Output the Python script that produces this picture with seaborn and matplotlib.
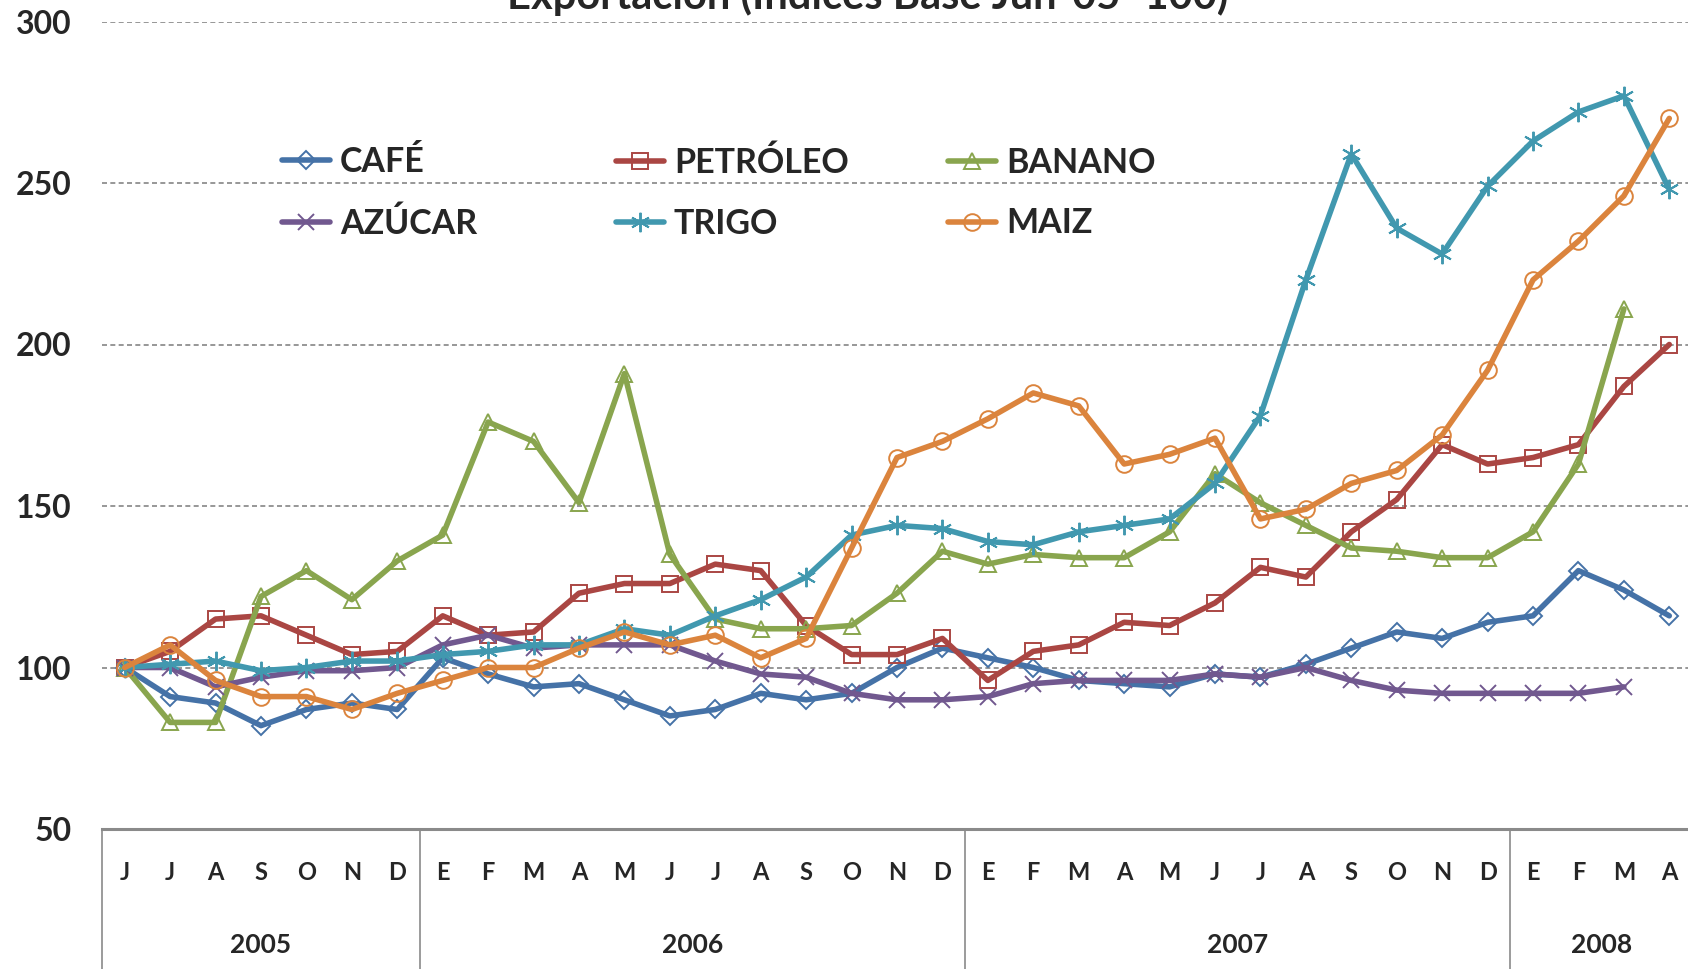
import numpy as np
import pandas as pd
import matplotlib
matplotlib.use("Agg")
import matplotlib.pyplot as plt
import seaborn as sns

# Monthly export price indices, base Jun-05 = 100 (Jun 2005 .. Apr 2008)
meses = ['J', 'J', 'A', 'S', 'O', 'N', 'D',
         'E', 'F', 'M', 'A', 'M', 'J', 'J', 'A', 'S', 'O', 'N', 'D',
         'E', 'F', 'M', 'A', 'M', 'J', 'J', 'A', 'S', 'O', 'N', 'D',
         'E', 'F', 'M', 'A']
anios = ['2005', '2006', '2007', '2008']
meses_por_anio = [7, 12, 12, 4]

cafe = [100, 91, 89, 82, 87, 89, 87, 103, 98, 94, 95, 90, 85, 87, 92, 90, 92,
        100, 106, 103, 100, 96, 95, 94, 98, 97, 101, 106, 111, 109, 114, 116,
        130, 124, 116]
petroleo = [100, 105, 115, 116, 110, 104, 105, 116, 110, 111, 123, 126, 126,
            132, 130, 113, 104, 104, 109, 96, 105, 107, 114, 113, 120, 131, 128,
            142, 152, 169, 163, 165, 169, 187, 200]
banano = [100, 83, 83, 122, 130, 121, 133, 141, 176, 170, 151, 191, 135, 115,
          112, 112, 113, 123, 136, 132, 135, 134, 134, 142, 160, 151, 144, 137,
          136, 134, 134, 142, 163, 211, np.nan]
azucar = [100, 100, 94, 97, 99, 99, 100, 107, 110, 106, 107, 107, 107, 102, 98,
          97, 92, 90, 90, 91, 95, 96, 96, 96, 98, 97, 100, 96, 93, 92, 92, 92,
          92, 94, np.nan]
trigo = [100, 101, 102, 99, 100, 102, 102, 104, 105, 107, 107, 112, 110, 116,
         121, 128, 141, 144, 143, 139, 138, 142, 144, 146, 157, 178, 220, 259,
         236, 228, 249, 263, 272, 277, 248]
maiz = [100, 107, 96, 91, 91, 87, 92, 96, 100, 100, 106, 111, 107, 110, 103,
        109, 137, 165, 170, 177, 185, 181, 163, 166, 171, 146, 149, 157, 161,
        172, 192, 220, 232, 246, 270]

series = ['CAFÉ', 'PETRÓLEO', 'BANANO', 'AZÚCAR', 'TRIGO', 'MAIZ']
valores = [cafe, petroleo, banano, azucar, trigo, maiz]
colores = ['#4572A7', '#AA4643', '#89A54E', '#71588F', '#4198AF', '#DB843D']
marcadores = ['D', 's', '^', 'x', (6, 2, 0), 'o']
tamanos = [9, 11, 12, 11, 14, 12]

sns.set_style('white')
plt.rcParams['font.family'] = ['Lato', 'DejaVu Sans']
plt.rcParams['font.weight'] = 'bold'

W, H = 1688, 969
fig = plt.figure(figsize=(W / 100, H / 100), dpi=100)
# axes: left edge x=102, y 300 at 21.5 px, y 50 at 829 px; runs past right edge
x0, x1 = 102 / W, 1692 / W
y_top, y_bot = 1 - 21.5 / H, 1 - 829 / H
ax = fig.add_axes([x0, y_bot, x1 - x0, y_top - y_bot])

x = np.arange(len(meses))
handles = {}
for nombre, vals, col, mk, ms in zip(series, valores, colores, marcadores, tamanos):
    sns.lineplot(x=x, y=vals, ax=ax, color=col, lw=4, marker=mk,
                 markersize=ms, markerfacecolor='none', markeredgecolor=col,
                 markeredgewidth=1.4, label=nombre, legend=False)
    handles[nombre] = ax.lines[-1]

ax.set_xlim(-0.5, len(meses) - 0.5)
ax.set_ylim(50, 300)
ax.set_yticks(range(50, 301, 50))
ax.tick_params(axis='y', length=0, pad=22, labelsize=23)
for lbl in ax.get_yticklabels():
    lbl.set_fontweight('bold')
ax.set_xticks([])
for y in range(100, 301, 50):
    ax.axhline(y, color='#858585', lw=1.2, ls=(0, (3, 2)), zorder=0)
for s in ['top', 'right', 'left']:
    ax.spines[s].set_visible(False)
ax.spines['bottom'].set_color('#8a8a8a')
ax.spines['bottom'].set_linewidth(2.2)
ax.set_xlabel('')
ax.set_ylabel('')

# multi-level category axis
axh = (y_top - y_bot) * H
tr = ax.get_xaxis_transform()
for i, m in enumerate(meses):
    ax.text(i, -43 / axh, m, transform=tr, ha='center', va='center',
            fontsize=17, fontweight='bold', clip_on=False)
inicio = -0.5
for anio, n in zip(anios, meses_por_anio):
    ax.plot([inicio, inicio], [0, -0.2], transform=tr, color='#8a8a8a',
            lw=1.2, clip_on=False)
    ax.text(inicio + n / 2, -116 / axh, anio, transform=tr, ha='center',
            va='center', fontsize=19, fontweight='bold', clip_on=False)
    inicio += n

# legend: three columns, two rows
columnas = [('CAFÉ', 'AZÚCAR'), ('PETRÓLEO', 'TRIGO'), ('BANANO', 'MAIZ')]
col_x = [282, 616, 948]
for cx, par in zip(col_x, columnas):
    leg = fig.legend([handles[p] for p in par], list(par), loc='center left',
                     bbox_to_anchor=(cx / W, 1 - 193 / H), frameon=False,
                     borderpad=0, borderaxespad=0, handlelength=1.4,
                     handletextpad=0.3, labelspacing=0.85,
                     prop={'size': 24.5, 'weight': 'bold'})

# title, cropped at the top of the image as in the source
fig.text(868 / W, 1 - 9 / H, 'Exportación (Índices Base Jun-05=100)',
         ha='center', va='baseline', fontsize=30, fontweight='bold')

fig.savefig('out.png', dpi=100)
